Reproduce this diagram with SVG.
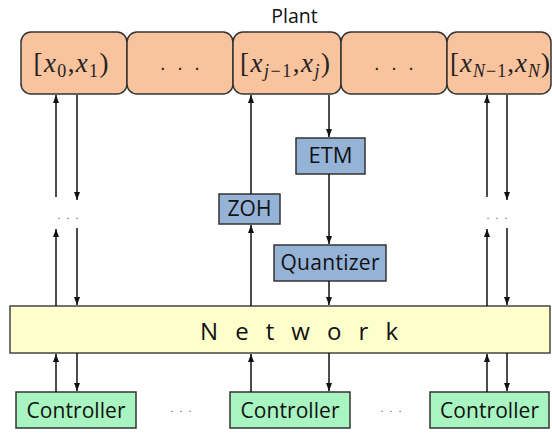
<svg xmlns="http://www.w3.org/2000/svg" width="552" height="433" viewBox="0 0 552 433">
<style>
.plant{fill:#F9C39D;stroke:#333;stroke-width:1.5}
.blue{fill:#95B3D7;stroke:#333;stroke-width:1.5}
.net{fill:#FFFFCC;stroke:#444;stroke-width:1.5}
.ctrl{fill:#A9F5C1;stroke:#333;stroke-width:1.5}
.lbl{font-family:"Open Sans",sans-serif;fill:#111;text-anchor:middle}
.math{font-family:"Liberation Serif",serif;font-size:27px;fill:#222;text-anchor:middle}
.it{font-style:italic}
.dots{font-family:"Liberation Sans",sans-serif;fill:#222;text-anchor:middle}
.sdots{font-family:"Liberation Sans",sans-serif;fill:#555;font-size:11px;text-anchor:middle;letter-spacing:6px}
.c path{fill:none;stroke:#111;stroke-width:1.5}
</style>
<defs>
<marker id="ah" viewBox="0 0 8 6" refX="8" refY="3" markerWidth="8" markerHeight="6" markerUnits="userSpaceOnUse" orient="auto">
<path d="M0,0 L8,3 L0,6 z" fill="#111"/>
</marker>
</defs>
<text class="lbl" x="294.5" y="23" font-size="19.5">Plant</text>
<g id="plant1"><rect class="plant" x="21" y="32" width="106" height="62" rx="10"/>
<text class="math" x="71" y="72" textLength="75">[<tspan class="it">x</tspan><tspan font-size="18" dy="5">0</tspan><tspan dy="-5">,</tspan><tspan class="it">x</tspan><tspan font-size="18" dy="5">1</tspan><tspan dy="-5">)</tspan></text></g>
<g id="plant2"><rect class="plant" x="127" y="32" width="106" height="62" rx="10"/>
<text class="dots" x="181.5" y="70" font-size="20" letter-spacing="3">. . .</text></g>
<g id="plant3"><rect class="plant" x="233" y="32" width="108" height="62" rx="10"/>
<text class="math" x="285" y="72" textLength="90">[<tspan class="it">x</tspan><tspan font-size="18" dy="5"><tspan class="it">j</tspan>−1</tspan><tspan dy="-5">,</tspan><tspan class="it">x</tspan><tspan font-size="18" dy="5" class="it">j</tspan><tspan dy="-5">)</tspan></text></g>
<g id="plant4"><rect class="plant" x="341" y="32" width="106" height="62" rx="10"/>
<text class="dots" x="395.5" y="70" font-size="20" letter-spacing="3">. . .</text></g>
<g id="plant5"><rect class="plant" x="447" y="32" width="104" height="62" rx="10"/>
<text class="math" x="500" y="72" textLength="100">[<tspan class="it">x</tspan><tspan font-size="18" dy="5"><tspan class="it">N</tspan>−1</tspan><tspan dy="-5">,</tspan><tspan class="it">x</tspan><tspan font-size="18" dy="5" class="it">N</tspan><tspan dy="-5">)</tspan></text></g>
<g id="zoh"><rect class="blue" x="219" y="194" width="61" height="30"/>
<text class="lbl" x="249.5" y="216" font-size="21">ZOH</text></g>
<g id="etm"><rect class="blue" x="296" y="138" width="69" height="36"/>
<text class="lbl" x="330.5" y="163" font-size="22">ETM</text></g>
<g id="quantizer"><rect class="blue" x="274" y="245" width="112" height="36"/>
<text class="lbl" x="330" y="270" font-size="21" textLength="99">Quantizer</text></g>
<g id="network"><rect class="net" x="10" y="306" width="540" height="47"/>
<text class="lbl" x="200" y="340" font-size="24" style="text-anchor:start" textLength="198">N e t w o r k</text></g>
<g id="controller1"><rect class="ctrl" x="16" y="392" width="120" height="36"/>
<text class="lbl" x="76" y="418" font-size="21" textLength="99">Controller</text></g>
<g id="controller2"><rect class="ctrl" x="230" y="392" width="120" height="36"/>
<text class="lbl" x="290" y="418" font-size="21" textLength="99">Controller</text></g>
<g id="controller3"><rect class="ctrl" x="430" y="392" width="119" height="36"/>
<text class="lbl" x="489.5" y="418" font-size="21" textLength="99">Controller</text></g>
<text class="sdots" x="71" y="219">...</text>
<text class="sdots" x="500" y="219">...</text>
<text class="sdots" x="184" y="412">...</text>
<text class="sdots" x="394" y="412">...</text>
<g id="connectors" class="c">
<path d="M56 306 L56 229" marker-end="url(#ah)"/>
<path d="M56 197 L56 95" marker-end="url(#ah)"/>
<path d="M77 95 L77 200" marker-end="url(#ah)"/>
<path d="M77 228 L77 305" marker-end="url(#ah)"/>
<path d="M487 306 L487 229" marker-end="url(#ah)"/>
<path d="M487 197 L487 95" marker-end="url(#ah)"/>
<path d="M507 95 L507 200" marker-end="url(#ah)"/>
<path d="M507 228 L507 305" marker-end="url(#ah)"/>
<path d="M251 306 L251 225" marker-end="url(#ah)"/>
<path d="M251 194 L251 95" marker-end="url(#ah)"/>
<path d="M329 95 L329 137" marker-end="url(#ah)"/>
<path d="M329 174 L329 244" marker-end="url(#ah)"/>
<path d="M329 281 L329 305" marker-end="url(#ah)"/>
<path d="M56 392 L56 354" marker-end="url(#ah)"/>
<path d="M77 353 L77 391" marker-end="url(#ah)"/>
<path d="M251 392 L251 354" marker-end="url(#ah)"/>
<path d="M329 353 L329 391" marker-end="url(#ah)"/>
<path d="M487 392 L487 354" marker-end="url(#ah)"/>
<path d="M507 353 L507 391" marker-end="url(#ah)"/>
</g>
</svg>
